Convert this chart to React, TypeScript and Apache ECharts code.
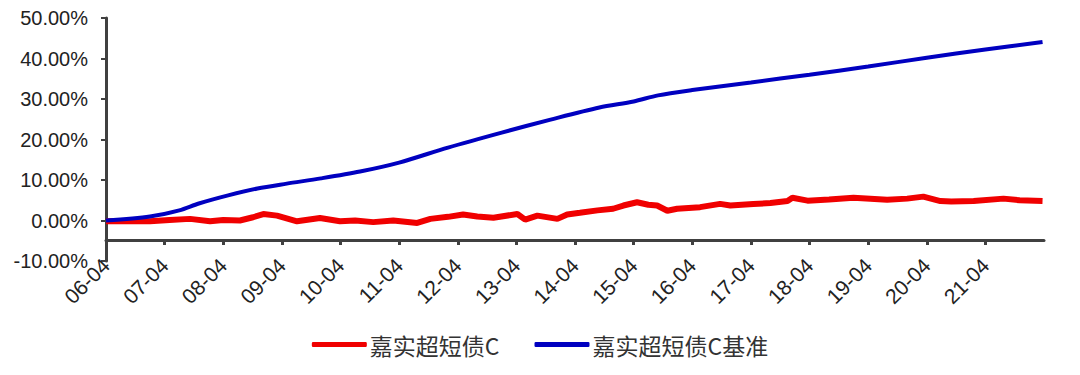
import { useEffect, useRef } from 'react';
import * as echarts from 'echarts';

// Month index counted from 2006-04 (0) ; tick every 12 months
const xTickLabels = ['06-04', '07-04', '08-04', '09-04', '10-04', '11-04', '12-04', '13-04', '14-04', '15-04', '16-04', '17-04', '18-04', '19-04', '20-04', '21-04'];
const xTickValues = [0, 12, 24, 36, 48, 60, 72, 84, 96, 108, 120, 132, 144, 156, 168, 180];

const seriesNames = ['嘉实超短债C', '嘉实超短债C基准'];

// 嘉实超短债C (cumulative return, %)
const fundMonths = [0, 4, 9, 13, 17.2, 21.3, 24, 27.4, 30.1, 32.2, 35, 39.1, 43.8, 47.9, 51, 54.7, 58.8, 63.7, 66.4, 70, 73.1, 76, 79.3, 84.2, 85.8, 88.3, 92.4, 94.4, 97, 100.6, 103.8, 105.9, 108.7, 111, 112.8, 114.9, 116.9, 121.6, 125.7, 127.8, 132.5, 136, 139.5, 140.5, 143.6, 148, 153, 159.9, 164, 167.3, 170.8, 173, 177.6, 183.7, 187, 191.7];
const fundValues = [-0.2, -0.1, -0.2, 0.1, 0.4, -0.2, 0.1, 0.0, 0.8, 1.6, 1.2, -0.2, 0.6, -0.2, 0.0, -0.4, 0.0, -0.6, 0.4, 0.9, 1.5, 1.0, 0.7, 1.6, 0.2, 1.2, 0.4, 1.5, 1.9, 2.5, 2.9, 3.7, 4.5, 3.9, 3.7, 2.4, 2.9, 3.3, 4.1, 3.7, 4.1, 4.3, 4.8, 5.6, 4.9, 5.2, 5.6, 5.1, 5.4, 5.9, 4.8, 4.7, 4.8, 5.4, 5.0, 4.8];

// 嘉实超短债C基准 (cumulative return, %)
const benchMonths = [0, 9, 15, 19, 25, 31, 37, 44, 52, 60, 70, 81, 91, 101, 108, 113, 120, 132, 144, 156, 168, 180, 191.7];
const benchValues = [0, 1.0, 2.5, 4.2, 6.2, 7.9, 9.1, 10.4, 12.1, 14.3, 18.0, 21.7, 24.9, 27.9, 29.4, 30.9, 32.2, 34.1, 36.0, 38.0, 40.2, 42.2, 44.1];

const RED = '#f00000';
const BLUE = '#0000c0';
const AXIS = '#404040';

export default function App() {
  const ref = useRef<HTMLDivElement>(null);
  useEffect(() => {
    document.body.style.margin = '0';
    const chart = echarts.init(ref.current!, null, { renderer: 'svg' });
    chart.setOption({
      animation: false,
      backgroundColor: '#ffffff',
      grid: { left: 106, right: 36, top: 18, bottom: 114, containLabel: false },
      legend: {
        data: seriesNames,
        left: 'center',
        top: 328,
        icon: 'roundRect',
        itemWidth: 55,
        itemHeight: 5,
        itemGap: 35,
        textStyle: { fontSize: 23, color: '#333', fontFamily: 'Noto Sans CJK SC', padding: [0, 0, 0, -2] },
      },
      xAxis: {
        type: 'value',
        min: 0,
        max: 192,
        interval: 12,
        position: 'bottom',
        offset: -21,
        axisLine: { show: true, onZero: false, lineStyle: { color: AXIS, width: 3 } },
        axisTick: { show: true, length: 5, lineStyle: { color: AXIS, width: 3 }, customValues: xTickValues },
        axisLabel: {
          rotate: 45,
          fontSize: 21,
          color: '#222',
          margin: 22,
          fontFamily: 'Liberation Sans',
          customValues: xTickValues,
          formatter: (v: number) => {
            const i = xTickValues.indexOf(v);
            return i >= 0 ? xTickLabels[i] : '';
          },
        },
        splitLine: { show: false },
      },
      yAxis: {
        type: 'value',
        min: -10,
        max: 50,
        interval: 10,
        axisLine: { show: true, lineStyle: { color: AXIS, width: 3 } },
        axisTick: { show: true, length: 5, lineStyle: { color: AXIS, width: 2 } },
        axisLabel: {
          fontSize: 20,
          color: '#222',
          margin: 18,
          fontFamily: 'Liberation Sans',
          formatter: (v: number) => v.toFixed(2) + '%',
        },
        splitLine: { show: false },
      },
      series: [
        {
          name: seriesNames[0],
          type: 'line',
          showSymbol: false,
          data: fundMonths.map((m, i) => [m, fundValues[i]]),
          lineStyle: { color: RED, width: 6 },
          itemStyle: { color: RED },
        },
        {
          name: seriesNames[1],
          type: 'line',
          showSymbol: false,
          smooth: 0.3,
          data: benchMonths.map((m, i) => [m, benchValues[i]]),
          lineStyle: { color: BLUE, width: 4 },
          itemStyle: { color: BLUE },
        },
      ],
    });
    return () => chart.dispose();
  }, []);
  return <div ref={ref} style={{ width: 1080, height: 375 }} />;
}
